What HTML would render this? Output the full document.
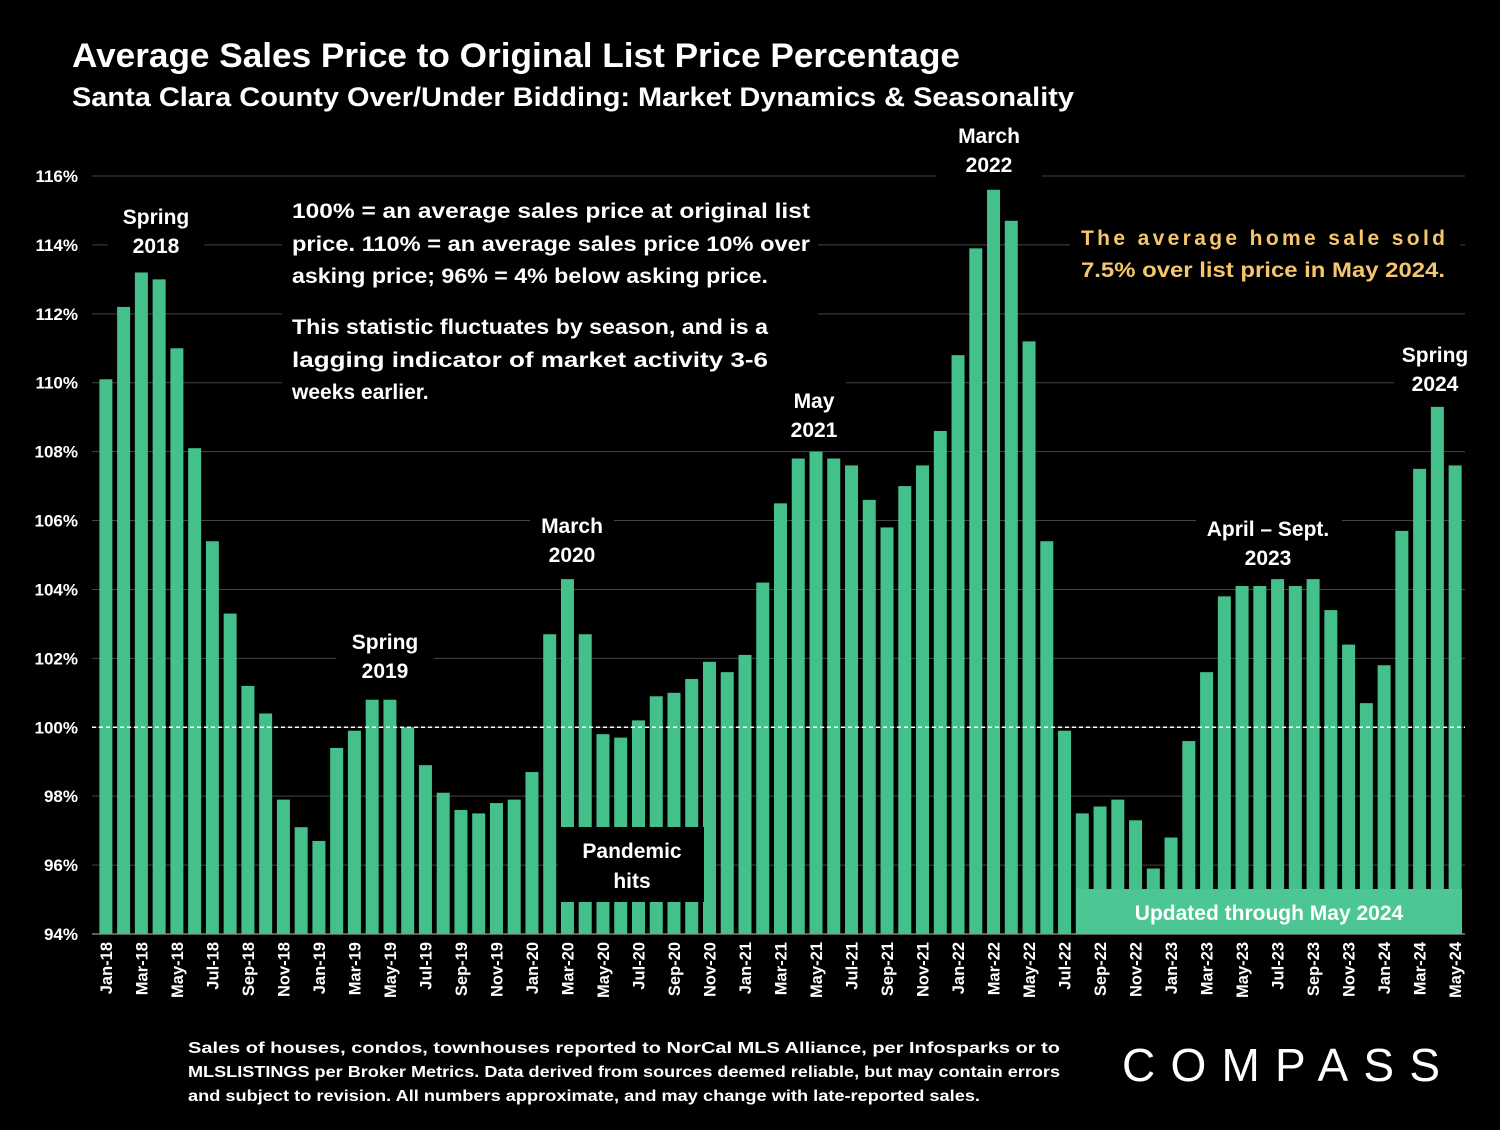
<!DOCTYPE html>
<html><head><meta charset="utf-8"><style>
body{margin:0;background:#000;width:1500px;height:1125px;overflow:hidden;font-family:"Liberation Sans",sans-serif;color:#fff}
</style></head><body>
<svg id="chart" width="1500" height="1125" xmlns="http://www.w3.org/2000/svg" font-family="Liberation Sans, sans-serif">
<rect width="1500" height="1125" fill="#000"/>
<text x="72" y="67" font-size="34" font-weight="bold" fill="#fff" textLength="888" lengthAdjust="spacingAndGlyphs">Average Sales Price to Original List Price Percentage</text>
<text x="72" y="106" font-size="27" font-weight="bold" fill="#fff" textLength="1002" lengthAdjust="spacingAndGlyphs">Santa Clara County Over/Under Bidding: Market Dynamics &amp; Seasonality</text>
<g id="grid"></g><g id="yticks"></g><g id="bars"></g><g id="xticks"></g>
<line id="ref100" x1="92" x2="1465" stroke="#fff" stroke-width="1.5" stroke-dasharray="4,3"/>
<g font-size="21" font-weight="bold" fill="#fff">
<rect x="282" y="192" width="536" height="212" fill="#000"/>
<text x="292" y="218" textLength="518" lengthAdjust="spacingAndGlyphs">100% = an average sales price at original list</text>
<text x="292" y="251" textLength="518" lengthAdjust="spacingAndGlyphs">price. 110% = an average sales price 10% over</text>
<text x="292" y="283" textLength="476" lengthAdjust="spacingAndGlyphs">asking price; 96% = 4% below asking price.</text>
<text x="292" y="334" textLength="476" lengthAdjust="spacingAndGlyphs">This statistic fluctuates by season, and is a</text>
<text x="292" y="367" textLength="476" lengthAdjust="spacingAndGlyphs">lagging indicator of market activity 3-6</text>
<text x="292" y="399">weeks earlier.</text>
</g>
<g font-weight="bold" font-size="21" fill="#fff" text-anchor="middle">
<rect x="108" y="198" width="96" height="64" fill="#000"/>
<text x="156" y="224">Spring<tspan x="156" dy="29">2018</tspan></text>
<rect x="336" y="623" width="98" height="64" fill="#000"/>
<text x="385" y="649">Spring<tspan x="385" dy="29">2019</tspan></text>
<rect x="530" y="507" width="84" height="64" fill="#000"/>
<text x="572" y="533">March<tspan x="572" dy="29">2020</tspan></text>
<rect x="780" y="382" width="66" height="64" fill="#000"/>
<text x="814" y="408">May<tspan x="814" dy="29">2021</tspan></text>
<rect x="936" y="116" width="106" height="66" fill="#000"/>
<text x="989" y="143">March<tspan x="989" dy="29">2022</tspan></text>
<rect x="1196" y="510" width="146" height="64" fill="#000"/>
<text x="1268" y="536">April – Sept.<tspan x="1268" dy="29">2023</tspan></text>
<rect x="1394" y="336" width="82" height="64" fill="#000"/>
<text x="1435" y="362">Spring<tspan x="1435" dy="29">2024</tspan></text>
<rect x="558" y="827" width="146" height="75" fill="#000"/>
<text x="632" y="858">Pandemic<tspan x="632" dy="30">hits</tspan></text>
</g>
<rect x="1076" y="889" width="386" height="45" fill="#4cc794"/>
<text x="1269" y="920" font-size="21" font-weight="bold" fill="#fff" text-anchor="middle">Updated through May 2024</text>
<g font-size="21" font-weight="bold" fill="#f5c66b">
<rect x="1070" y="220" width="390" height="70" fill="#000"/>
<text x="1081" y="245" textLength="364" lengthAdjust="spacing">The average home sale sold</text>
<text x="1081" y="277" textLength="364" lengthAdjust="spacingAndGlyphs">7.5% over list price in May 2024.</text>
</g>
<g font-size="15.5" font-weight="bold" fill="#fff">
<text x="188" y="1053" textLength="872" lengthAdjust="spacingAndGlyphs">Sales of houses, condos, townhouses reported to NorCal MLS Alliance, per Infosparks or to</text>
<text x="188" y="1077" textLength="872" lengthAdjust="spacingAndGlyphs">MLSLISTINGS per Broker Metrics. Data derived from sources deemed reliable, but may contain errors</text>
<text x="188" y="1101" textLength="792" lengthAdjust="spacingAndGlyphs">and subject to revision. All numbers approximate, and may change with late-reported sales.</text>
</g>
<text x="1122" y="1081" font-size="46" fill="#fff" textLength="318" lengthAdjust="spacing">COMPASS</text>
</svg>
<script>
const months=["Jan","Feb","Mar","Apr","May","Jun","Jul","Aug","Sep","Oct","Nov","Dec"];
const categories=[];
for(let y=18;y<=24;y++)for(let m=0;m<12;m++){if(y===24&&m>4)break;categories.push(months[m]+"-"+y);}
const values=[110.1,112.2,113.2,113.0,111.0,108.1,105.4,103.3,101.2,100.4,97.9,97.1,
96.7,99.4,99.9,100.8,100.8,100.0,98.9,98.1,97.6,97.5,97.8,97.9,
98.7,102.7,104.3,102.7,99.8,99.7,100.2,100.9,101.0,101.4,101.9,101.6,
102.1,104.2,106.5,107.8,108.0,107.8,107.6,106.6,105.8,107.0,107.6,108.6,
110.8,113.9,115.6,114.7,111.2,105.4,99.9,97.5,97.7,97.9,97.3,95.9,
96.8,99.6,101.6,103.8,104.1,104.1,104.3,104.1,104.3,103.4,102.4,100.7,
101.8,105.7,107.5,109.3,107.6];
const yTicks=[94,96,98,100,102,104,106,108,110,112,114,116];
const NS="http://www.w3.org/2000/svg";
const yMin=94,yMax=116,top0=176,bot=934,left=97,right=1464,gl=92,gr=1465;
const y=v=>bot-(v-yMin)/(yMax-yMin)*(bot-top0);
const step=(right-left)/categories.length;
const x=i=>left+step*(i+0.5);
function mk(t,a,p){const e=document.createElementNS(NS,t);for(const k in a)e.setAttribute(k,a[k]);p.appendChild(e);return e;}
const grid=document.getElementById('grid'),yt=document.getElementById('yticks'),bars=document.getElementById('bars'),xt=document.getElementById('xticks');
yTicks.forEach(v=>{
 const l=mk('line',{x1:gl,x2:gr,y1:y(v),y2:y(v),stroke:v===94?'#bbb':'#444','stroke-width':1},grid);
 
 
 const t=mk('text',{x:78,y:y(v)+6,'font-size':17,'font-weight':'bold',fill:'#fff','text-anchor':'end'},yt);
 t.textContent=v+'%';
 
 
});
values.forEach((v,i)=>{
 const r=mk('rect',{x:x(i)-6.5,y:y(v),width:13,height:bot-y(v),fill:'#44c08a'},bars);
 
 
});
categories.forEach((c,i)=>{
 if(i%2)return;
 const t=mk('text',{transform:`translate(${x(i)+6},942) rotate(-90)`,'font-size':16.5,'font-weight':'bold',fill:'#fff','text-anchor':'end'},xt);
 t.textContent=c;
 
 
});
const r=document.getElementById('ref100');r.setAttribute('y1',y(100));r.setAttribute('y2',y(100));
</script>
</body></html>
